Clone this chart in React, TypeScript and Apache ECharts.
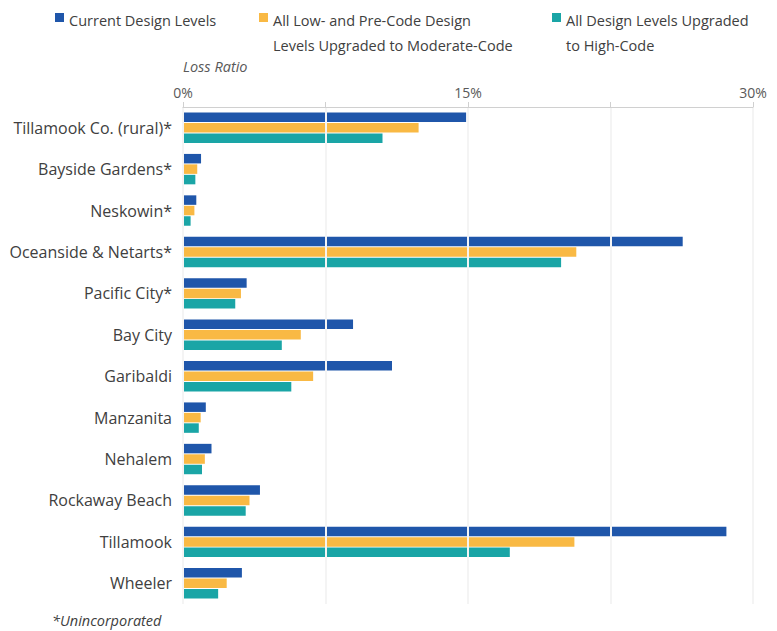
import React, { useEffect, useRef } from "react";
import * as echarts from "echarts";

const categories = [
  "Tillamook Co. (rural)*",
  "Bayside Gardens*",
  "Neskowin*",
  "Oceanside & Netarts*",
  "Pacific City*",
  "Bay City",
  "Garibaldi",
  "Manzanita",
  "Nehalem",
  "Rockaway Beach",
  "Tillamook",
  "Wheeler",
];
const seriesNames = [
  "Current Design Levels",
  "All Low- and Pre-Code Design\nLevels Upgraded to Moderate-Code",
  "All Design Levels Upgraded\nto High-Code",
];
const current = [14.9, 0.95, 0.7, 26.3, 3.35, 8.95, 11.0, 1.2, 1.5, 4.05, 28.6, 3.1];
const moderate = [12.4, 0.75, 0.6, 20.7, 3.05, 6.2, 6.85, 0.93, 1.15, 3.5, 20.6, 2.3];
const high = [10.5, 0.65, 0.4, 19.9, 2.75, 5.2, 5.7, 0.83, 1.0, 3.3, 17.2, 1.85];
const colors = ["#1f56aa", "#f9b944", "#1aa5a6"];

const FONT = "Open Sans";

export default function App() {
  const ref = useRef<HTMLDivElement>(null);
  useEffect(() => {
    const chart = echarts.init(ref.current!, null, { renderer: "svg" });
    const data = [current, moderate, high];
    const legendX = [55, 259, 552];
    const graphics: any[] = [];
    seriesNames.forEach((name, i) => {
      graphics.push({
        type: "rect",
        shape: { x: legendX[i], y: 13, width: 9, height: 9 },
        style: { fill: colors[i] },
      });
      graphics.push({
        type: "text",
        x: legendX[i] + 14,
        y: 8,
        style: {
          text: name,
          fill: "#404040",
          font: `14.5px "${FONT}"`,
          lineHeight: 25,
          verticalAlign: "top",
        },
      });
    });
    graphics.push({
      type: "text",
      x: 183,
      y: 59,
      style: { text: "Loss Ratio", fill: "#595959", font: `italic 14.5px "${FONT}"` },
    });
    graphics.push({
      type: "text",
      x: 52,
      y: 613,
      style: { text: "*Unincorporated", fill: "#404040", font: `italic 14.5px "${FONT}"` },
    });
    chart.setOption({
      animation: false,
      grid: { left: 183, right: 24, top: 107, bottom: 27, containLabel: false },
      graphic: graphics,
      xAxis: {
        type: "value",
        position: "top",
        min: 0,
        max: 30,
        interval: 7.5,
        z: 3,
        axisLine: { show: true, lineStyle: { color: "#d0d0d0", width: 1 } },
        axisTick: { show: true, length: 5, lineStyle: { color: "#d0d0d0" } },
        axisLabel: {
          formatter: (v: number) => (v % 15 === 0 ? `${v}%` : ""),
          color: "#595959",
          fontFamily: FONT,
          fontSize: 14,
          margin: 8,
        },
        splitLine: { show: true, lineStyle: { color: "#f4f4f4", width: 2 } },
      },
      yAxis: {
        type: "category",
        data: categories,
        inverse: true,
        axisLine: { show: false },
        axisTick: { show: false },
        axisLabel: {
          color: "#404040",
          fontFamily: FONT,
          fontSize: 16,
          margin: 11,
          padding: [0, 0, 4, 0],
        },
      },
      series: data.map((d, i) => ({
        type: "bar",
        name: seriesNames[i],
        data: d,
        barWidth: 9.5,
        barGap: "10%",
        itemStyle: { color: colors[i] },
      })),
    });
    return () => chart.dispose();
  }, []);
  return <div ref={ref} style={{ width: 777, height: 631, position: "absolute", left: 0, top: 0 }} />;
}
